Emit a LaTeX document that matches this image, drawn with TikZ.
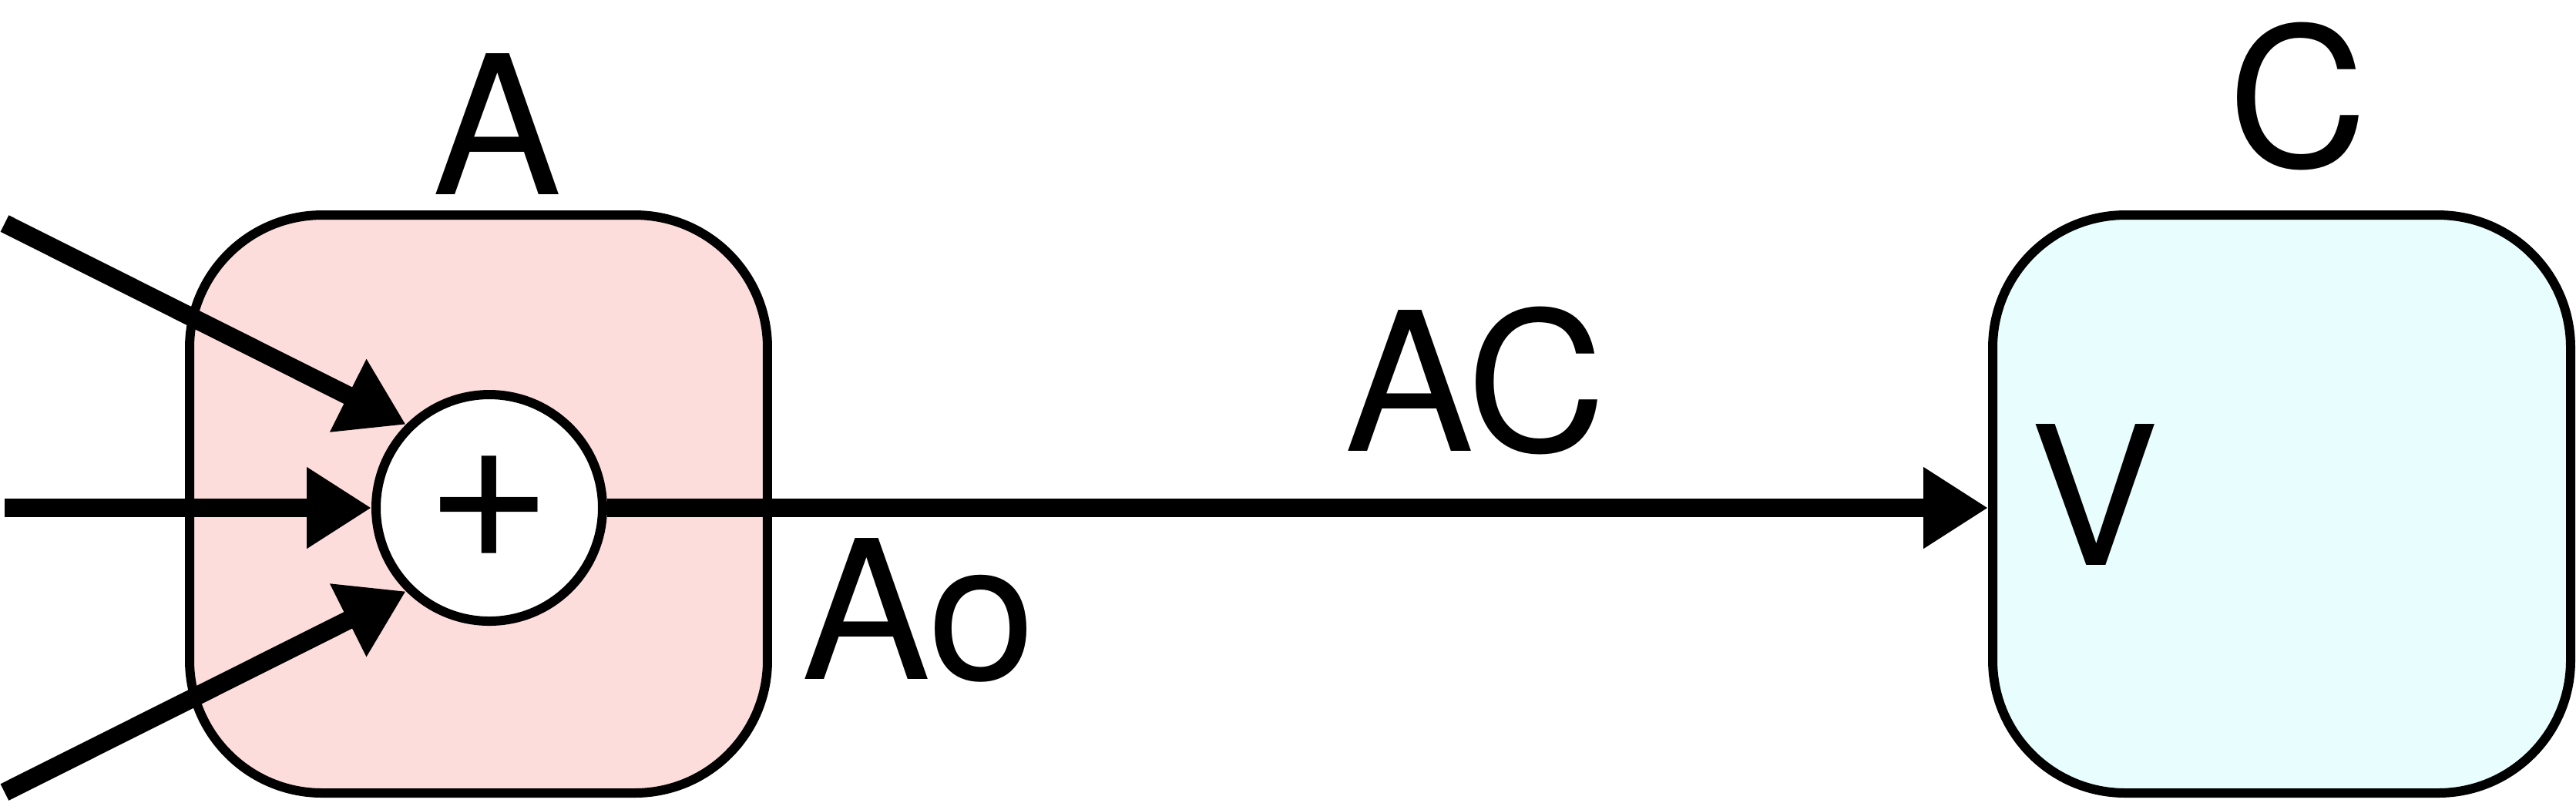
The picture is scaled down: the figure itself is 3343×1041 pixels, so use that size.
\documentclass[tikz,border=0pt]{standalone}
\usepackage{fontspec}
\setmainfont{TeX Gyre Heros}
\usepackage{tikz}
\usetikzlibrary{arrows.meta}

\definecolor{boxpink}{RGB}{253,220,220}
\definecolor{boxcyan}{RGB}{232,253,253}
\newcommand{\labfont}{\fontsize{25.1pt}{30pt}\selectfont}
\newcommand{\sumfont}{\fontsize{28.2pt}{30pt}\selectfont}
\tikzset{
  block/.style={draw, line width=1.2pt, rounded corners=17.2pt,
    minimum width=75pt, minimum height=75pt, inner sep=0pt},
  summer/.style={draw, circle, fill=white, line width=1.2pt,
    minimum size=29.4pt, inner sep=0pt, font=\sumfont},
  lab/.style={anchor=base, inner sep=0pt, font=\labfont},
  conn/.style={line width=2.4pt, -{Triangle[length=8.4pt,width=10pt]}},
}

\begin{document}
\begin{tikzpicture}[x=0.1pt, y=-0.1pt]
\useasboundingbox (0,0) rectangle (3343,1041);

% blocks
\node[block, fill=boxpink] (blockA) at (621,654) {};
\node[block, fill=boxcyan] (blockC) at (2961,654) {};

% summing point
\node[summer] (sum) at (635,659) {+};

% labels
\node[lab] (labA) at (645,252) {A};
\node[lab] (labC) at (2982,216) {C};
\node[lab] (labAC) at (1915,585) {AC};
\node[lab] (labAo) at (1192,881) {Ao};
\node[lab] (labV) at (2718,733) {V};

% inputs
\coordinate (in1) at (6,290);
\coordinate (in2) at (6,659);
\coordinate (in3) at (6,1028);
\draw[conn] (in1) -- (sum.north west);
\draw[conn] (in2) -- (sum.west);
\draw[conn] (in3) -- (sum.south west);

% output
\draw[conn] (sum.east) -- (sum.east -| blockC.west);
\end{tikzpicture}
\end{document}
